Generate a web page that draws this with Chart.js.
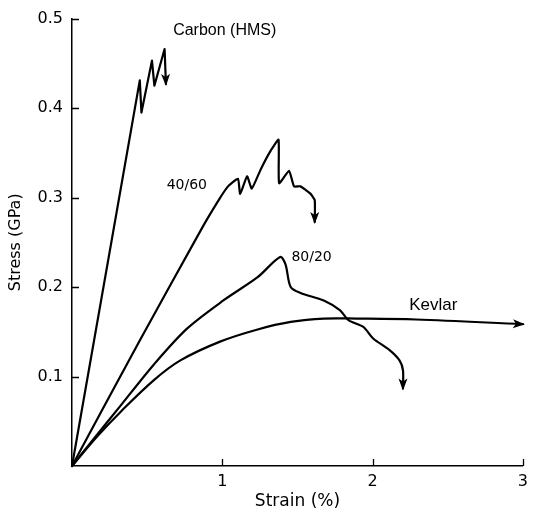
<!DOCTYPE html>
<html><head><meta charset="utf-8">
<script src="https://cdn.jsdelivr.net/npm/chart.js@4/dist/chart.umd.min.js"></script>
<style>html,body{margin:0;padding:0;background:#fff}canvas{display:block}</style>
</head><body>
<canvas id="c" width="534" height="512"></canvas>
<script>
// ---- data (strain %, stress GPa) ----
const seriesNames = ['Carbon (HMS)', '40/60', '80/20', 'Kevlar'];

const carbonStrain = [0, 0.451, 0.462, 0.532, 0.548, 0.616, 0.625];
const carbonStress = [0, 0.431, 0.395, 0.453, 0.425, 0.466, 0.427];

const s4060Strain = [0, 0.45, 0.862, 0.983, 1.038, 1.104, 1.119, 1.165, 1.196, 1.257, 1.323, 1.374, 1.378, 1.444, 1.477, 1.520, 1.586, 1.615, 1.615];
const s4060Stress = [0, 0.140, 0.265, 0.299, 0.3125, 0.321, 0.304, 0.3237, 0.310, 0.332, 0.3527, 0.3646, 0.316, 0.330, 0.3125, 0.3125, 0.3044, 0.297, 0.2727];

const s8020Strain = [0, 0.128, 0.326, 0.545, 0.765, 1.007, 1.235, 1.385, 1.420, 1.455, 1.520, 1.675, 1.784, 1.839, 1.938, 2.004, 2.113, 2.179, 2.202, 2.202];
const s8020Stress = [0, 0.027, 0.068, 0.1135, 0.1535, 0.185, 0.211, 0.2336, 0.2255, 0.200, 0.1934, 0.185, 0.174, 0.163, 0.1555, 0.1425, 0.1295, 0.118, 0.107, 0.0867];

const kevlarStrain = [0, 0.173, 0.326, 0.545, 0.721, 0.985, 1.235, 1.455, 1.675, 1.894, 2.289, 3.0];
const kevlarStress = [0, 0.034, 0.061, 0.096, 0.118, 0.139, 0.1526, 0.161, 0.1648, 0.1648, 0.1637, 0.1585];

const xTicks = [1, 2, 3];
const yTicks = [0.1, 0.2, 0.3, 0.4, 0.5];
const xTickLabels = ['1', '2', '3'];
const yTickLabels = ['0.1', '0.2', '0.3', '0.4', '0.5'];

const toPts = (xs, ys) => xs.map((x, i) => ({x: x, y: ys[i]}));

// label anchors (data coordinates)
const labelAnchors = [
  {text: seriesNames[0], x: 1.016, y: 0.4866, font: '16px "Liberation Sans"'},
  {text: seriesNames[1], x: 0.764, y: 0.3136, font: '14px "DejaVu Sans"'},
  {text: seriesNames[2], x: 1.594, y: 0.2327, font: '14px "DejaVu Sans"'},
  {text: seriesNames[3], x: 2.404, y: 0.1797, font: '17px "Liberation Sans"'}
];

const inwardTicks = {
  id: 'inwardTicks',
  afterDraw(chart) {
    const ctx = chart.ctx, xs = chart.scales.x, ys = chart.scales.y;
    const a = chart.chartArea;
    ctx.save();
    ctx.strokeStyle = '#000';
    ctx.lineWidth = 1.3;
    ctx.beginPath();
    xTicks.forEach(v => { const p = Math.round(xs.getPixelForValue(v)) + 0.5; ctx.moveTo(p, a.bottom); ctx.lineTo(p, a.bottom - 7); });
    yTicks.forEach(v => { const p = Math.round(ys.getPixelForValue(v)) + 0.5; ctx.moveTo(a.left, p); ctx.lineTo(a.left + 7, p); });
    ctx.stroke();
    ctx.restore();
  }
};

const arrowsAndLabels = {
  id: 'arrowsAndLabels',
  afterDatasetsDraw(chart) {
    const ctx = chart.ctx, xs = chart.scales.x, ys = chart.scales.y;
    ctx.save();
    ctx.fillStyle = '#000';
    chart.data.datasets.forEach(ds => {
      const d = ds.data, n = d.length;
      const x1 = xs.getPixelForValue(d[n - 2].x), y1 = ys.getPixelForValue(d[n - 2].y);
      const x2 = xs.getPixelForValue(d[n - 1].x), y2 = ys.getPixelForValue(d[n - 1].y);
      const ang = Math.atan2(y2 - y1, x2 - x1);
      const L = 10, W = 4.5;
      ctx.beginPath();
      ctx.moveTo(x2 + Math.cos(ang) * 2, y2 + Math.sin(ang) * 2);
      ctx.lineTo(x2 - Math.cos(ang) * L - Math.sin(ang) * W, y2 - Math.sin(ang) * L + Math.cos(ang) * W);
      ctx.lineTo(x2 - Math.cos(ang) * (L - 3), y2 - Math.sin(ang) * (L - 3));
      ctx.lineTo(x2 - Math.cos(ang) * L + Math.sin(ang) * W, y2 - Math.sin(ang) * L - Math.cos(ang) * W);
      ctx.closePath();
      ctx.fill();
    });
    ctx.textAlign = 'center';
    ctx.textBaseline = 'middle';
    labelAnchors.forEach(l => {
      ctx.font = l.font;
      ctx.fillText(l.text, xs.getPixelForValue(l.x), ys.getPixelForValue(l.y));
    });
    ctx.restore();
  }
};

const mk = (name, xs, ys, tension) => ({
  label: name, data: toPts(xs, ys), showLine: true, borderColor: '#000', backgroundColor: '#000',
  borderWidth: 2.2, pointRadius: 0, tension: tension, clip: false, borderJoinStyle: 'round', borderCapStyle: 'round'
});

new Chart(document.getElementById('c'), {
  type: 'scatter',
  data: {
    datasets: [
      mk(seriesNames[0], carbonStrain, carbonStress, 0),
      mk(seriesNames[1], s4060Strain, s4060Stress, 0.15),
      mk(seriesNames[2], s8020Strain, s8020Stress, 0.3),
      mk(seriesNames[3], kevlarStrain, kevlarStress, 0.35)
    ]
  },
  options: {
    responsive: false, animation: false, devicePixelRatio: 1,
    layout: {padding: {top: 18, right: 6, left: 0, bottom: 0}},
    plugins: {legend: {display: false}, tooltip: {enabled: false}},
    scales: {
      x: {
        type: 'linear', min: 0, max: 3,
        afterBuildTicks: s => { s.ticks = xTicks.map(v => ({value: v})); },
        afterFit: s => { s.height = 46; },
        grid: {display: false, drawTicks: false},
        border: {display: true, color: '#000', width: 1.5},
        ticks: {padding: 6, color: '#000', font: {family: 'DejaVu Sans', size: 16},
          callback: (v) => xTickLabels[xTicks.indexOf(v)] ?? ''},
        title: {display: true, text: 'Strain (%)', color: '#000', font: {family: 'DejaVu Sans', size: 17}, padding: {top: 0, bottom: 0}}
      },
      y: {
        type: 'linear', min: 0, max: 0.5,
        afterBuildTicks: s => { s.ticks = yTicks.map(v => ({value: v})); },
        afterFit: s => { s.width = 72; },
        grid: {display: false, drawTicks: false},
        border: {display: true, color: '#000', width: 1.5},
        ticks: {padding: 9, color: '#000', font: {family: 'DejaVu Sans', size: 16},
          callback: (v) => { const i = yTicks.findIndex(t => Math.abs(t - v) < 1e-9); return i >= 0 ? yTickLabels[i] : ''; }},
        title: {display: true, text: 'Stress (GPa)', color: '#000', font: {family: 'DejaVu Sans', size: 16}, padding: {top: 6, bottom: 0}}
      }
    }
  },
  plugins: [inwardTicks, arrowsAndLabels]
});
</script>
</body></html>
